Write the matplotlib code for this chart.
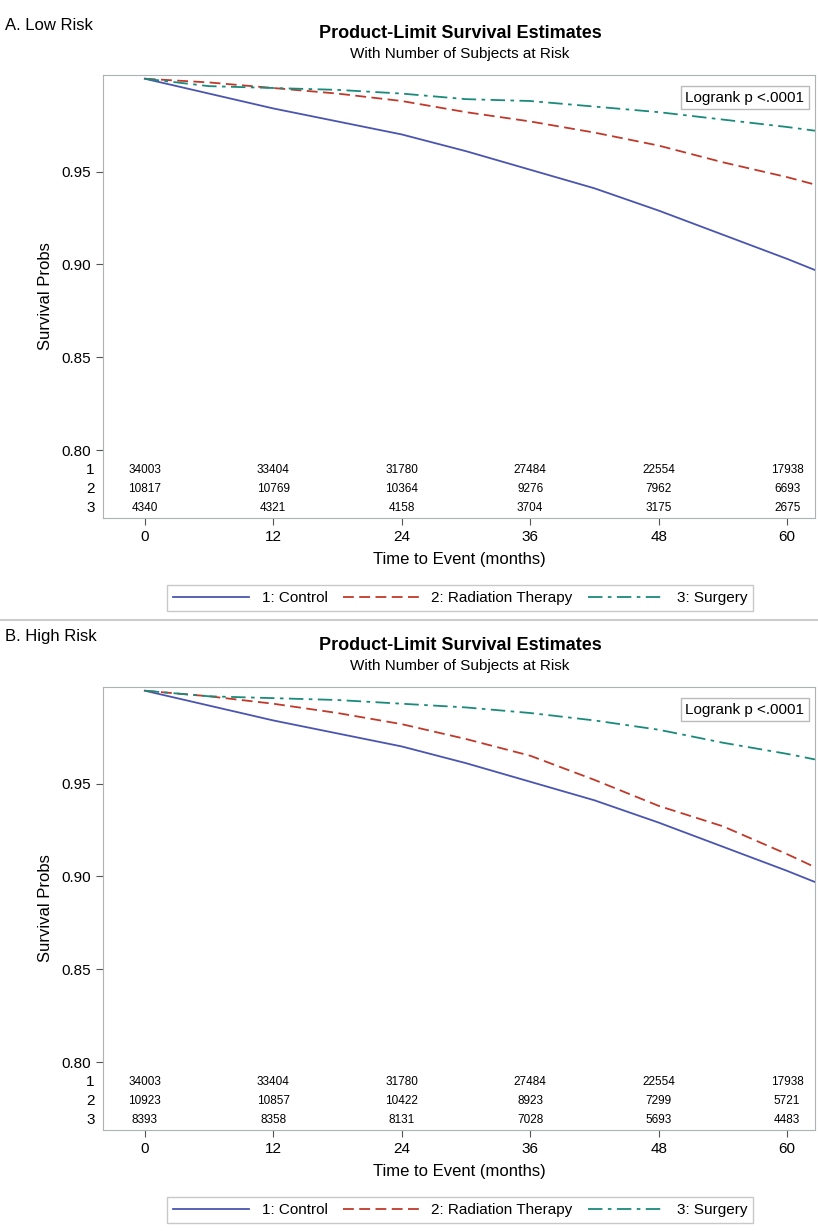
import matplotlib
matplotlib.use("Agg")
import matplotlib.pyplot as plt
from matplotlib.lines import Line2D

plt.rcParams['font.family'] = ['Liberation Sans', 'DejaVu Sans']

months = [0, 6, 12, 18, 24, 30, 36, 42, 48, 54, 60, 62.6]
ctrl = [1.0, 0.992, 0.984, 0.977, 0.970, 0.961, 0.951, 0.941, 0.929, 0.916, 0.903, 0.897]
rad_low = [1.0, 0.998, 0.995, 0.992, 0.988, 0.982, 0.977, 0.971, 0.964, 0.955, 0.947, 0.943]
surg_low = [1.0, 0.996, 0.995, 0.994, 0.992, 0.989, 0.988, 0.985, 0.982, 0.978, 0.974, 0.972]
rad_high = [1.0, 0.997, 0.993, 0.988, 0.982, 0.974, 0.965, 0.952, 0.938, 0.927, 0.912, 0.905]
surg_high = [1.0, 0.997, 0.996, 0.995, 0.993, 0.991, 0.988, 0.984, 0.979, 0.972, 0.966, 0.963]

risk_times = [0, 12, 24, 36, 48, 60]
risk_low = [[34003, 33404, 31780, 27484, 22554, 17938],
            [10817, 10769, 10364, 9276, 7962, 6693],
            [4340, 4321, 4158, 3704, 3175, 2675]]
risk_high = [[34003, 33404, 31780, 27484, 22554, 17938],
             [10923, 10857, 10422, 8923, 7299, 5721],
             [8393, 8358, 8131, 7028, 5693, 4483]]

W, H = 818, 1231
fig = plt.figure(figsize=(W/100, H/100), dpi=100)
cols = ['#4a55b0', '#c0392b', '#1a8a7a']
styles = ['-', (0, (6, 3)), (0, (8, 3, 2, 3))]

def panel(top_px, label, rad, surg, risk):
    l, r = 103, 815
    t, b = top_px + 75, top_px + 518
    ax = fig.add_axes([l/W, 1 - b/H, (r-l)/W, (b-t)/H])
    for y, c, s, lab in zip([ctrl, rad, surg], cols, styles,
                            ['1: Control', '2: Radiation Therapy', '3: Surgery']):
        ax.plot(months, y, color=c, linestyle=s, lw=1.3, label=lab)
    ax.set_xlim(-3.9, 62.6)
    ax.set_ylim(0.7635, 1.002)
    ax.set_yticks([0.80, 0.85, 0.90, 0.95])
    ax.set_yticklabels(['0.80', '0.85', '0.90', '0.95'])
    ax.set_xticks(risk_times)
    ax.tick_params(labelsize=11, color='#555555', length=5)
    for sp in ax.spines.values():
        sp.set_color('#aab4b4')
    ax.set_ylabel('Survival Probs', fontsize=12, labelpad=6)
    ax.set_xlabel('Time to Event (months)', fontsize=12, labelpad=6)
    rows_y = [0.7892, 0.779, 0.769]
    for i, (yy, vals) in enumerate(zip(rows_y, risk)):
        for tt, v in zip(risk_times, vals):
            ax.text(tt, yy, str(v), ha='center', va='center', fontsize=8.5)
        ax.text(-0.012, yy, str(i+1), transform=ax.get_yaxis_transform(),
                ha='right', va='center', fontsize=11)
    ax.text(0.985, 0.965, 'Logrank p <.0001', transform=ax.transAxes, ha='right', va='top',
            fontsize=11, bbox=dict(boxstyle='square,pad=0.3', fc='white', ec='#bbbbbb'))
    fig.text(5/W, 1 - (top_px + 25)/H, label, fontsize=12, va='center')
    fig.text(460/W, 1 - (top_px + 34)/H, 'Product-Limit Survival Estimates',
             fontsize=13, fontweight='bold', ha='center', va='center')
    fig.text(460/W, 1 - (top_px + 54)/H, 'With Number of Subjects at Risk',
             fontsize=11, ha='center', va='center')
    h, lb = ax.get_legend_handles_labels()
    fig.legend(h, lb, loc='center', bbox_to_anchor=(460/W, 1 - (top_px + 598)/H),
               ncol=3, fontsize=11, frameon=True, edgecolor='#bbbbbb', fancybox=False,
               handlelength=5, columnspacing=1.0)

panel(0, 'A. Low Risk', rad_low, surg_low, risk_low)
panel(612, 'B. High Risk', rad_high, surg_high, risk_high)
fig.add_artist(Line2D([0, 1], [1 - 620/H]*2, color='#cccccc', lw=1.5))
fig.savefig('out.png', dpi=100)
